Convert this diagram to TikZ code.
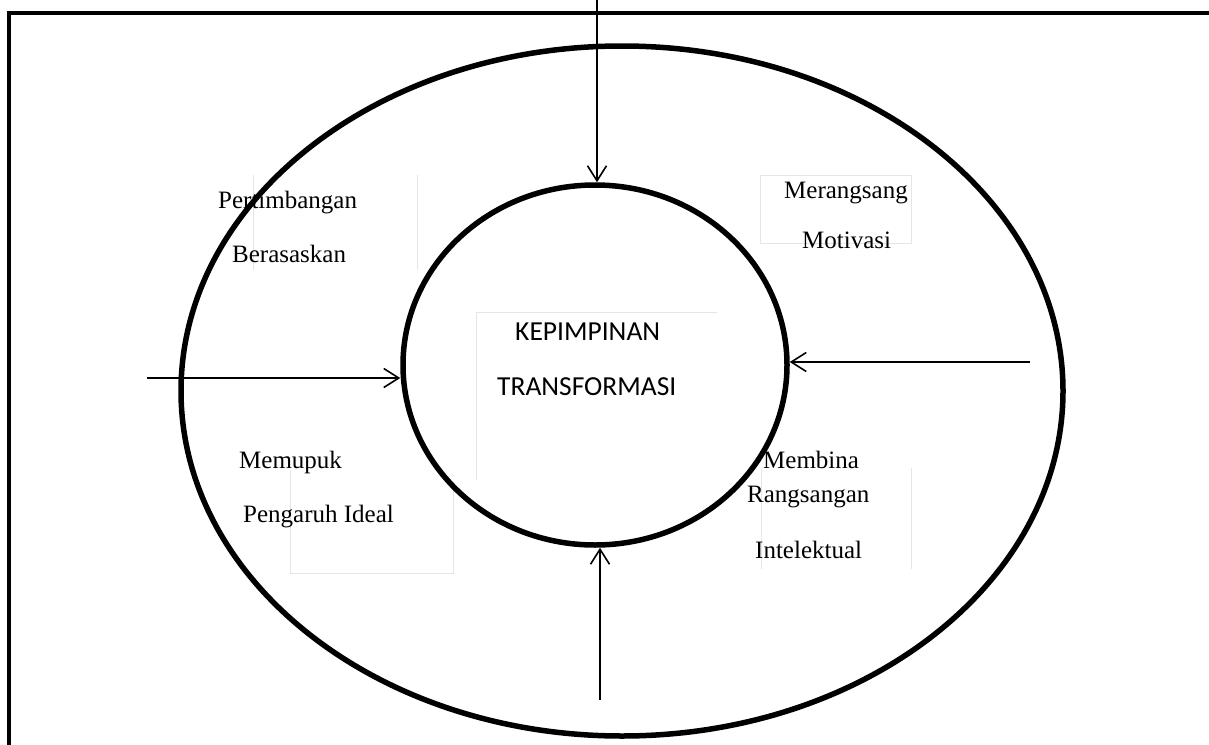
\documentclass[tikz,border=0pt]{standalone}
\usepackage{fontspec}
\setmainfont{Liberation Serif}
\newfontfamily\calib{Carlito}
\usetikzlibrary{shapes.geometric,arrows.meta}
\tikzset{
  ring/.style={draw, ellipse, line width=5.5pt, inner sep=0pt},
  arr/.style={line width=1.6pt, -{Straight Barb[length=15pt,width=19pt,line width=1.6pt]}},
  lbl/.style={anchor=base west, inner sep=0pt, font=\fontsize{25}{30}\selectfont},
  clbl/.style={anchor=base west, inner sep=0pt, font=\calib\fontsize{27.5}{33}\selectfont},
  faint/.style={draw=black!10, line width=0.8pt},
}
\begin{document}
\begin{tikzpicture}[x=1pt,y=-1pt]
\clip (0,0) rectangle (1209,744);
\fill[white] (0,0) rectangle (1209,744);
% page border
\draw[line width=4.5pt] (9,800) -- (9,13) -- (1260,13);
% faint text boxes
\draw[faint] (253,175) -- (253,270) (417,175) -- (417,270);
\draw[faint] (760,243) -- (760,175) -- (911,175) -- (911,243) -- cycle;
\draw[faint] (476,480) -- (476,312) -- (717,312);
\draw[faint] (290,470) -- (290,573) -- (453,573) -- (453,483);
\draw[faint] (761,468) -- (761,569) (911,468) -- (911,569);
% rings
\node[ring, minimum width=882pt, minimum height=690pt] (outer) at (622,391) {};
\node[ring, minimum width=384pt, minimum height=360pt] (inner) at (595,365) {};
% arrows
\coordinate (ct) at (597,0);
\coordinate (cl) at (147,378);
\coordinate (cr) at (1030,362);
\coordinate (cb) at (600,700);
\draw[arr] (ct) -- (ct |- inner.north);
\draw[arr] (cl) -- (cl -| inner.west);
\draw[arr] (cr) -- (cr -| inner.east);
\draw[arr] (cb) -- (cb |- inner.south);
% labels
\node[lbl] (p1) at (218,208) {Pertimbangan};
\node[lbl] (p2) at (232,262) {Berasaskan};
\node[lbl] (m1) at (784,198) {Merangsang};
\node[lbl] (m2) at (802,248) {Motivasi};
\node[clbl] (k1) at (515,340) {KEPIMPINAN};
\node[clbl] (k2) at (497,395) {TRANSFORMASI};
\node[lbl] (u1) at (239,468) {Memupuk};
\node[lbl] (u2) at (243,522) {Pengaruh Ideal};
\node[lbl] (b1) at (763,468) {Membina};
\node[lbl] (b2) at (747,502) {Rangsangan};
\node[lbl] (b3) at (755,558) {Intelektual};
\end{tikzpicture}
\end{document}
